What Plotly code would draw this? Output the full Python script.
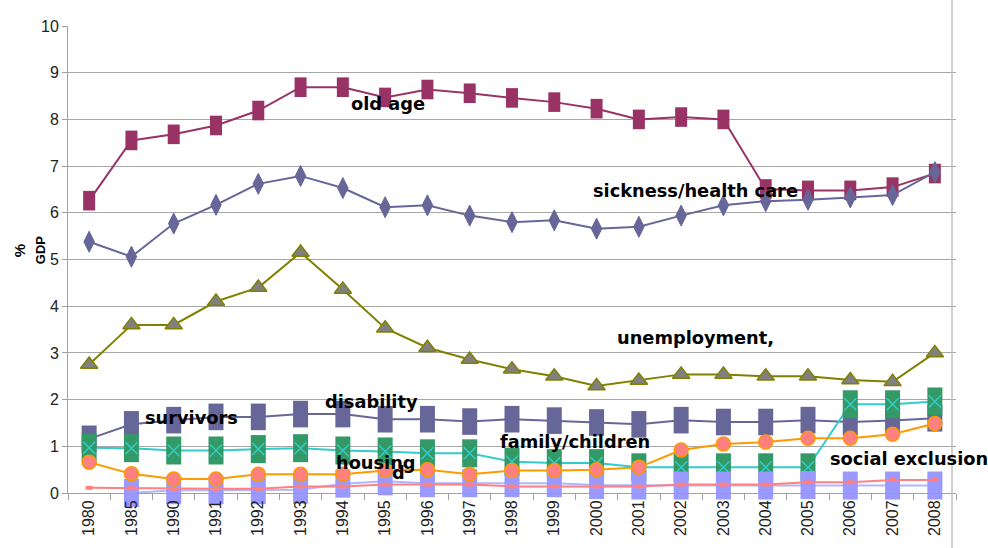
import plotly.graph_objects as go

# categories (years)
years = ["1980", "1985", "1990", "1991", "1992", "1993", "1994", "1995", "1996", "1997",
         "1998", "1999", "2000", "2001", "2002", "2003", "2004", "2005", "2006", "2007", "2008"]

# spending in % of GDP
old_age = [6.26, 7.55, 7.68, 7.87, 8.19, 8.69, 8.69, 8.47, 8.64, 8.56,
           8.46, 8.37, 8.23, 8.00, 8.05, 8.00, 6.51, 6.48, 6.48, 6.55, 6.84]
sickness = [5.38, 5.06, 5.77, 6.17, 6.62, 6.79, 6.53, 6.12, 6.16, 5.94,
            5.80, 5.84, 5.66, 5.70, 5.94, 6.16, 6.25, 6.28, 6.33, 6.38, 6.87]
unemployment = [2.75, 3.60, 3.60, 4.10, 4.40, 5.15, 4.36, 3.53, 3.11, 2.86,
                2.65, 2.50, 2.29, 2.41, 2.54, 2.54, 2.50, 2.50, 2.42, 2.38, 3.00]
disability = [1.16, 1.47, 1.56, 1.63, 1.63, 1.69, 1.69, 1.58, 1.58, 1.53,
              1.58, 1.55, 1.51, 1.47, 1.56, 1.52, 1.52, 1.56, 1.52, 1.55, 1.60]
family = [0.97, 0.96, 0.91, 0.91, 0.94, 0.96, 0.91, 0.89, 0.85, 0.85,
          0.67, 0.64, 0.64, 0.55, 0.55, 0.55, 0.55, 0.55, 1.90, 1.90, 1.96]
housing = [None, 0.00, 0.06, 0.06, 0.06, 0.07, 0.20, 0.25, 0.21, 0.21,
           0.21, 0.21, 0.17, 0.16, 0.16, 0.16, 0.16, 0.17, 0.16, 0.16, 0.16]
social_excl = [0.66, 0.41, 0.30, 0.30, 0.40, 0.40, 0.40, 0.48, 0.50, 0.40,
               0.48, 0.48, 0.50, 0.55, 0.92, 1.05, 1.09, 1.17, 1.17, 1.26, 1.49]
survivors = [0.11, 0.10, 0.09, 0.09, 0.09, 0.14, 0.14, 0.18, 0.18, 0.18,
             0.14, 0.14, 0.14, 0.14, 0.18, 0.18, 0.18, 0.23, 0.23, 0.28, 0.28]

fig = go.Figure()


def bar_marker(color, width, size):
    # tall rectangle marker: a thick vertical stroke
    return dict(symbol="line-ns-open", size=size, color=color, line=dict(color=color, width=width))


fig.add_trace(go.Scatter(x=years, y=old_age, name="old age", mode="lines+markers",
                         line=dict(color="#993366", width=2),
                         marker=bar_marker("#993366", 12, 14)))
fig.add_trace(go.Scatter(x=years, y=sickness, name="sickness/health care", mode="lines+markers",
                         line=dict(color="#666699", width=2),
                         marker=dict(symbol="diamond-tall", size=15, color="#666699",
                                     line=dict(color="#666699", width=1))))
fig.add_trace(go.Scatter(x=years, y=unemployment, name="unemployment", mode="lines+markers",
                         line=dict(color="#808000", width=2),
                         marker=dict(symbol="triangle-up", size=15, color="#808080",
                                     line=dict(color="#808000", width=1.5))))
fig.add_trace(go.Scatter(x=years, y=disability, name="disability", mode="lines+markers",
                         line=dict(color="#666699", width=2),
                         marker=bar_marker("#666699", 15, 19)))
fig.add_trace(go.Scatter(x=years, y=family, name="family/children", mode="lines+markers",
                         line=dict(color="#33CCCC", width=2),
                         marker=bar_marker("#339966", 15, 20)))
fig.add_trace(go.Scatter(x=years, y=family, mode="markers", showlegend=False,
                         marker=dict(symbol="x-thin-open", size=12, color="#33CCCC",
                                     line=dict(color="#33CCCC", width=1.5))))
fig.add_trace(go.Scatter(x=years, y=housing, name="housing", mode="lines+markers",
                         line=dict(color="#B4B4FF", width=2),
                         marker=bar_marker("#9999FF", 15, 20)))
fig.add_trace(go.Scatter(x=years, y=social_excl, name="social exclusion", mode="lines+markers",
                         line=dict(color="#FF9900", width=2),
                         marker=dict(symbol="circle", size=14, color="#FF8080",
                                     line=dict(color="#FF9900", width=1.5))))
fig.add_trace(go.Scatter(x=years, y=survivors, name="survivors", mode="lines+markers",
                         line=dict(color="#FF8080", width=2),
                         marker=dict(symbol="line-ew-open", size=5, color="#FF8080",
                                     line=dict(color="#FF8080", width=4))))

fig.update_traces(cliponaxis=False)

label_font = dict(family="DejaVu Sans", size=17.8, color="black")
labels = [
    ("<b>old age</b>", 0.3164, 8.34),
    ("<b>sickness/health care</b>", 0.589, 6.47),
    ("<b>unemployment,</b>", 0.616, 3.32),
    ("<b>disability</b>", 0.287, 1.96),
    ("<b>survivors</b>", 0.0845, 1.62),
    ("<b>family/children</b>", 0.484, 1.11),
    ("<b>housing</b>", 0.2995, 0.66),
    ("<b>d</b>", 0.3626, 0.43),
    ("<b>social exclusion</b>", 0.856, 0.74),
]
annotations = [dict(text=t, x=x, y=y, xref="paper", yref="y", xanchor="left", yanchor="middle",
                    showarrow=False, font=label_font) for t, x, y in labels]
annotations += [
    dict(text="<b>%</b>", x=-0.0552, y=5.2, xref="paper", yref="y", textangle=-90,
         xanchor="center", yanchor="middle",
         showarrow=False, font=dict(family="Liberation Sans", size=15, color="black")),
    dict(text="<b>GDP</b>", x=-0.0315, y=5.2, xref="paper", yref="y", textangle=-90,
         xanchor="center", yanchor="middle",
         showarrow=False, font=dict(family="Liberation Sans", size=13, color="black")),
]

fig.update_layout(
    width=988, height=548,
    margin=dict(l=68, r=32, t=26, b=52),
    paper_bgcolor="white", plot_bgcolor="white",
    showlegend=False,
    annotations=annotations,
    shapes=[dict(type="line", xref="paper", yref="paper", x0=0.9955, x1=0.9955,
                 y0=-0.12, y1=1.06, line=dict(color="#C0C0C0", width=1.5))],
    xaxis=dict(type="category", categoryorder="array", categoryarray=years,
               range=[-0.5, len(years) - 0.5], autorange=False,
               showgrid=False, showline=True, linecolor="#A0A0A0", linewidth=1,
               ticks="outside", tickson="boundaries", ticklen=6, tickcolor="#A0A0A0",
               tickangle=-90, tickfont=dict(family="Liberation Sans", size=16, color="#222"),
               zeroline=False),
    yaxis=dict(range=[0, 10], dtick=1, showgrid=True, gridcolor="#A6A6A6", gridwidth=1,
               showline=True, linecolor="#A0A0A0", linewidth=1,
               ticks="outside", ticklen=5, tickcolor="#A0A0A0",
               tickfont=dict(family="Liberation Sans", size=16, color="#222"),
               zeroline=False),
)

fig.write_html("out.html", config={"displayModeBar": False},
               post_script="document.body.style.margin='0';")
